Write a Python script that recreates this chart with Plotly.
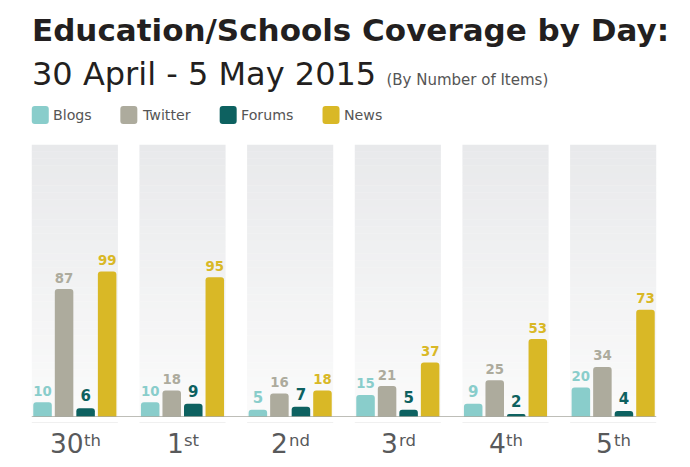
import plotly.graph_objects as go

days = ["30th", "1st", "2nd", "3rd", "4th", "5th"]
day_num = ["30", "1", "2", "3", "4", "5"]
day_suffix = ["th", "st", "nd", "rd", "th", "th"]

series_names = ["Blogs", "Twitter", "Forums", "News"]
blogs = [10, 10, 5, 15, 9, 20]
twitter = [87, 18, 16, 21, 25, 34]
forums = [6, 9, 7, 5, 2, 4]
news = [99, 95, 18, 37, 53, 73]
series_values = [blogs, twitter, forums, news]
colors = ["#89cdcb", "#adab9d", "#0d6160", "#d9b826"]

W, H = 690, 467
ML, MR, MT, MB = 20.5, 22.5, 145, 50
PW, PH = W - ML - MR, H - MT - MB


def px2x(px):
    return (px - ML) / PW


def px2y(py):
    return (H - MB - py) / PH


fig = go.Figure()
for name, vals, col in zip(series_names, series_values, colors):
    fig.add_trace(go.Bar(
        name=name, x=days, y=vals,
        marker=dict(color=col, cornerradius=3, line=dict(width=0)),
        texttemplate="%{y}", textposition="outside",
        textfont=dict(family="DejaVu Sans", size=15, color=col, weight="bold"),
        cliponaxis=False, showlegend=False,
    ))

shapes = []
# gradient background panels
N = 40
top = (232, 233, 235)
bot = (251, 251, 251)
for i in range(len(days)):
    for k in range(N):
        t = (k + 0.5) / N
        c = tuple(round(bot[j] + (top[j] - bot[j]) * t) for j in range(3))
        shapes.append(dict(type="rect", xref="x", yref="paper",
                           x0=i - 0.4, x1=i + 0.4, y0=k / N, y1=(k + 1) / N + 0.001,
                           fillcolor="rgb(%d,%d,%d)" % c, line=dict(width=0), layer="below"))
    shapes.append(dict(type="line", xref="x", yref="paper", x0=i - 0.4, x1=i + 0.4,
                       y0=-0.02, y1=-0.02, line=dict(color="#f0f0f0", width=1), layer="below"))
# baseline
shapes.append(dict(type="line", xref="x", yref="y", x0=-0.4, x1=len(days) - 1 + 0.4,
                   y0=0, y1=0, line=dict(color="#a9a9a0", width=1.5)))

annotations = []

# x category labels: number + raised suffix
NUM_FS, SUF_FS = 26.5, 16.5
DIGIT_W = 0.636
SUF_W = {"th": 1.026, "st": 0.912, "nd": 1.269, "rd": 1.046}
for i, (n, s) in enumerate(zip(day_num, day_suffix)):
    num_w = len(n) * DIGIT_W * NUM_FS
    suf_w = SUF_W[s] * SUF_FS
    left = -(num_w + suf_w) / 2
    annotations.append(dict(text=n, xref="x", yref="paper", x=i, y=px2y(453 - 0.928 * NUM_FS - 2),
                            xanchor="left", yanchor="top", xshift=left - 2, showarrow=False,
                            font=dict(family="DejaVu Sans", size=NUM_FS, color="#58595b")))
    annotations.append(dict(text=s, xref="x", yref="paper", x=i, y=px2y(446.5 - 0.928 * SUF_FS - 2),
                            xanchor="left", yanchor="top", xshift=left + num_w - 1, showarrow=False,
                            font=dict(family="DejaVu Sans", size=SUF_FS, color="#58595b")))

# legend
legend_sw_x = [39.8, 128.5, 228, 331]
legend_tx_x = [50.5, 139.5, 238.5, 341.5]
legend_y = 115
rr = "M -5.5,-9 L 5.5,-9 Q 8.5,-9 8.5,-6 L 8.5,6 Q 8.5,9 5.5,9 L -5.5,9 Q -8.5,9 -8.5,6 L -8.5,-6 Q -8.5,-9 -5.5,-9 Z"
for name, col, sx, tx in zip(series_names, colors, legend_sw_x, legend_tx_x):
    shapes.append(dict(type="path", xref="paper", yref="paper", xsizemode="pixel", ysizemode="pixel",
                       xanchor=px2x(sx), yanchor=px2y(legend_y), path=rr,
                       fillcolor=col, line=dict(width=0)))
    annotations.append(dict(text=name, xref="paper", yref="paper", x=px2x(tx), y=px2y(legend_y),
                            xanchor="left", yanchor="middle", showarrow=False,
                            font=dict(family="DejaVu Sans", size=14.2, color="#555555")))

annotations.append(dict(text="Education/Schools Coverage by Day:", xref="paper", yref="paper",
                        x=px2x(30), y=px2y(30), xanchor="left", yanchor="middle", showarrow=False,
                        font=dict(family="DejaVu Sans", size=31, color="#231f20", weight="bold")))
annotations.append(dict(text="30 April - 5 May 2015 <span style='font-size:15px;color:#555555'>(By Number of Items)</span>",
                        xref="paper", yref="paper",
                        x=px2x(29.5), y=px2y(74), xanchor="left", yanchor="middle", showarrow=False,
                        font=dict(family="DejaVu Sans", size=32, color="#231f20")))

fig.update_layout(
    width=W, height=H, margin=dict(l=ML, r=MR, t=MT, b=MB),
    paper_bgcolor="white", plot_bgcolor="white",
    barmode="group", bargap=0.2, bargroupgap=0.14,
    shapes=shapes, annotations=annotations, showlegend=False,
    xaxis=dict(showticklabels=False, showline=False, showgrid=False, zeroline=False, ticks="",
               range=[-0.5, 5.5]),
    yaxis=dict(range=[0, 185], showticklabels=False, showgrid=False, zeroline=False, showline=False),
)
fig.write_html("out.html")
